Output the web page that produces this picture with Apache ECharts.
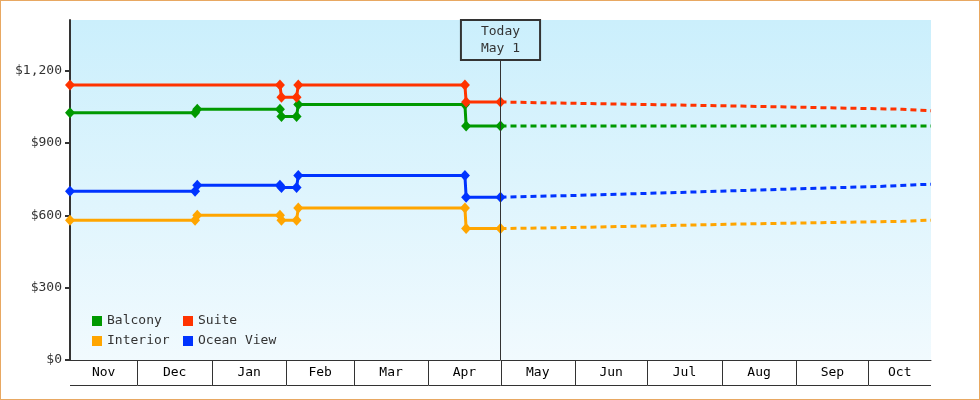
<!DOCTYPE html>
<html>
<head>
<meta charset="utf-8">
<script src="https://cdn.jsdelivr.net/npm/echarts@6/dist/echarts.min.js"></script>
<style>
html,body{margin:0;padding:0;background:#fff}
#wrap{position:relative;width:980px;height:400px}
#c{width:980px;height:400px}
#frame{position:absolute;left:0;top:0;width:980px;height:400px;box-sizing:border-box;border:1px solid #e8a862;pointer-events:none}
</style>
</head>
<body>
<div id="wrap"><div id="c"></div><div id="frame"></div></div>
<script>
// ---------- data ----------
const seriesNames = ['Balcony', 'Suite', 'Interior', 'Ocean View'];
const seriesColors = ['#009900', '#ff3300', '#ffa500', '#0033ff'];

const histDates = ['2022-11-03 00:00', '2022-12-25 00:00', '2022-12-25 22:00', '2023-01-29 07:00', '2023-01-29 22:00',
                   '2023-02-05 05:00', '2023-02-05 22:00', '2023-04-16 05:00', '2023-04-16 17:00', '2023-05-01 00:00'];
const balconyHist = [1025, 1025, 1040, 1040, 1010, 1010, 1060, 1060, 970, 970];
const suiteHist   = [1140, null, null, 1140, 1090, 1090, 1140, 1140, 1070, 1070];
const interiorHist= [580, 580, 600, 600, 580, 580, 630, 630, 545, 545];
const oceanHist   = [700, 700, 725, 725, 715, 715, 765, 765, 675, 675];

const fcDates = ['2023-05-01 00:00', '2023-06-03 00:00', '2023-06-03 12:00', '2023-07-15 00:00', '2023-07-15 12:00',
                 '2023-08-09 00:00', '2023-08-09 12:00', '2023-08-26 00:00', '2023-08-26 12:00', '2023-10-06 00:00',
                 '2023-10-06 12:00', '2023-10-15 00:00', '2023-10-15 12:00', '2023-10-19 00:00', '2023-10-19 12:00',
                 '2023-10-27 00:00'];
const balconyFc = [970, null, null, null, null, null, null, null, null, null, null, null, null, null, null, 970];
const suiteFc   = [1070, 1064, 1060, null, null, 1053, 1048, null, null, null, null, 1040, 1036, null, null, 1034];
const interiorFc= [545, 550, 554, null, null, 564, 567, null, null, null, null, 575, 579, null, null, 580];
const oceanFc   = [675, 683, 687, 695, 699, null, null, 708, 712, 720, 724, null, null, 726, 728, 729];

const monthLabels = ['Nov', 'Dec', 'Jan', 'Feb', 'Mar', 'Apr', 'May', 'Jun', 'Jul', 'Aug', 'Sep', 'Oct'];
const monthStarts = ['2022-11-01', '2022-12-01', '2023-01-01', '2023-02-01', '2023-03-01', '2023-04-01',
                     '2023-05-01', '2023-06-01', '2023-07-01', '2023-08-01', '2023-09-01', '2023-10-01', '2023-11-01'];
const yTicks = [0, 300, 600, 900, 1200];
const xStart = '2022-11-03';
const xEnd = '2023-10-27';
const todayDate = '2023-05-01';
const todayLabel = 'Today\nMay 1';

// ---------- chart ----------
const mono = '"DejaVu Sans Mono", "Liberation Mono", monospace';
const ts = s => echarts.time.parse(s).getTime();
const xMin = ts(xStart), xMax = ts(xEnd);
const pairs = (dates, vals) => dates.map((d, i) => [ts(d), vals[i]]);

const hist = [balconyHist, suiteHist, interiorHist, oceanHist];
const fc = [balconyFc, suiteFc, interiorFc, oceanFc];

const series = [];
seriesNames.forEach((name, i) => {
  series.push({
    name, type: 'line', data: pairs(fcDates, fc[i]), connectNulls: true,
    symbol: 'none', showSymbol: false, z: 2,
    lineStyle: { width: 3, color: seriesColors[i], type: [6, 4] },
    itemStyle: { color: seriesColors[i] },
    emphasis: { disabled: true }
  });
});
seriesNames.forEach((name, i) => {
  const s = {
    name, type: 'line', data: pairs(histDates, hist[i]), connectNulls: true,
    symbol: 'diamond', symbolSize: [10, 11], showAllSymbol: true, z: 3,
    lineStyle: { width: 3, color: seriesColors[i] },
    itemStyle: { color: seriesColors[i] },
    emphasis: { disabled: true }
  };
  if (i === 0) {
    s.markLine = {
      silent: true, animation: false, symbol: ['none', 'none'],
      lineStyle: { color: '#333', width: 1, type: 'solid' },
      emphasis: { disabled: true },
      label: {
        show: true, position: 'end', distance: 0, formatter: todayLabel,
        color: '#333', fontFamily: mono, fontSize: 13, lineHeight: 17,
        padding: [3, 20], borderColor: '#333', borderWidth: 1, backgroundColor: 'rgba(0,0,0,0)'
      },
      data: [[{ xAxis: ts(todayDate), yAxis: 0 }, { xAxis: ts(todayDate), yAxis: 1244 }]]
    };
  }
  series.push(s);
});

series.push({
  type: 'custom', name: 'months', silent: true, clip: false, z: 5,
  data: monthLabels.map((m, i) => [ts(monthStarts[i]), ts(monthStarts[i + 1]), i]),
  encode: { x: [0, 1] },
  renderItem: (params, api) => {
    const s0 = api.value(0), e0 = api.value(1);
    const s = Math.max(s0, xMin), e = Math.min(e0, xMax);
    const p0 = api.coord([s, 0]), p1 = api.coord([e, 0]);
    const y = Math.round(p0[1]);
    const children = [
      { type: 'text', style: { text: monthLabels[api.value(2)], x: (p0[0] + p1[0]) / 2, y: y + 13,
          align: 'center', verticalAlign: 'middle', font: '13px ' + mono, fill: '#000' } },
      { type: 'line', shape: { x1: p0[0], y1: y + 25.5, x2: p1[0], y2: y + 25.5 }, style: { stroke: '#333', lineWidth: 1 } }
    ];
    if (s0 > xMin) {
      const xx = Math.round(p0[0]) + 0.5;
      children.push({ type: 'line', shape: { x1: xx, y1: y, x2: xx, y2: y + 25 }, style: { stroke: '#333', lineWidth: 1 } });
    }
    return { type: 'group', children };
  }
});

const legendCommon = {
  orient: 'vertical', top: 314, itemWidth: 10, itemHeight: 10, itemGap: 6, icon: 'rect',
  selectedMode: false, padding: 0,
  itemStyle: { borderWidth: 0 },
  textStyle: { color: '#333', fontFamily: mono, fontSize: 13, lineHeight: 14 }
};

const chart = echarts.init(document.getElementById('c'), null, { renderer: 'canvas' });
chart.setOption({
  animation: false,
  backgroundColor: '#fff',
  grid: {
    show: true, left: 70, right: 49, top: 20, bottom: 40, borderWidth: 0,
    backgroundColor: new echarts.graphic.LinearGradient(0, 0, 0, 1, [
      { offset: 0, color: '#cbeffc' }, { offset: 1, color: '#f1fafe' }
    ])
  },
  legend: [
    Object.assign({}, legendCommon, { left: 92, data: [seriesNames[0], seriesNames[2]] }),
    Object.assign({}, legendCommon, { left: 183, data: [seriesNames[1], seriesNames[3]] })
  ],
  xAxis: {
    type: 'time', min: xMin, max: xMax,
    axisLine: { show: true, lineStyle: { color: '#333', width: 1 } },
    axisTick: { show: false }, axisLabel: { show: false }, splitLine: { show: false }
  },
  yAxis: {
    type: 'value', min: 0, max: 1410, interval: 300,
    axisLine: { show: true, lineStyle: { color: '#333', width: 2 } },
    axisTick: { show: true, length: 5, lineStyle: { color: '#333', width: 2 }, customValues: yTicks },
    axisLabel: { customValues: yTicks, margin: 8, color: '#333', fontFamily: mono, fontSize: 13,
      formatter: v => '$' + Number(v).toLocaleString('en-US') },
    splitLine: { show: false }
  },
  series
});
</script>
</body>
</html>
